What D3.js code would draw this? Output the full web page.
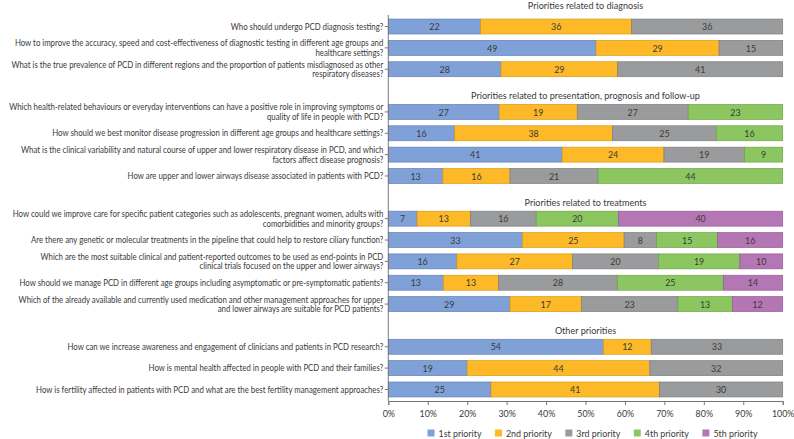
<!DOCTYPE html>
<html>
<head>
<meta charset="utf-8">
<script src="https://cdn.jsdelivr.net/npm/d3@7"></script>
<style>
  html, body { margin: 0; padding: 0; background: #fff; }
  svg { display: block; font-family: Lato, "Noto Sans", sans-serif; }
</style>
</head>
<body>
<svg id="chart" width="794" height="439"></svg>
<script>
// ---------- DATA ----------
const seriesNames = ["1st priority", "2nd priority", "3rd priority", "4th priority", "5th priority"];
const sectionTitles = [
  "Priorities related to diagnosis",
  "Priorities related to presentation, prognosis and follow-up",
  "Priorities related to treatments",
  "Other priorities"
];
// question labels (lines split with "|")
const questions = [
  "Who should undergo PCD diagnosis testing?",
  "How to improve the accuracy, speed and cost-effectiveness of diagnostic testing in different age groups and|healthcare settings?",
  "What is the true prevalence of PCD in different regions and the proportion of patients misdiagnosed as other|respiratory diseases?",
  "Which health-related behaviours or everyday interventions can have a positive role in improving symptoms or|quality of life in people with PCD?",
  "How should we best monitor disease progression in different age groups and healthcare settings?",
  "What is the clinical variability and natural course of upper and lower respiratory disease in PCD, and which|factors affect disease prognosis?",
  "How are upper and lower airways disease associated in patients with PCD?",
  "How could we improve care for specific patient categories such as adolescents, pregnant women, adults with|comorbidities and minority groups?",
  "Are there any genetic or molecular treatments in the pipeline that could help to restore ciliary function?",
  "Which are the most suitable clinical and patient-reported outcomes to be used as end-points in PCD|clinical trials focused on the upper and lower airways?",
  "How should we manage PCD in different age groups including asymptomatic or pre-symptomatic patients?",
  "Which of the already available and currently used medication and other management approaches for upper|and lower airways are suitable for PCD patients?",
  "How can we increase awareness and engagement of clinicians and patients in PCD research?",
  "How is mental health affected in people with PCD and their families?",
  "How is fertility affected in patients with PCD and what are the best fertility management approaches?"
];
const questionSection = [0,0,0, 1,1,1,1, 2,2,2,2,2, 3,3,3];
const first  = [22, 49, 28, 27, 16, 41, 13,  7, 33, 16, 13, 29, 54, 19, 25];
const second = [36, 29, 29, 19, 38, 24, 16, 13, 25, 27, 13, 17, 12, 44, 41];
const third  = [36, 15, 41, 27, 25, 19, 21, 16,  8, 20, 28, 23, 33, 32, 30];
const fourth = [ 0,  0,  0, 23, 16,  9, 44, 20, 15, 19, 25, 13,  0,  0,  0];
const fifth  = [ 0,  0,  0,  0,  0,  0,  0, 40, 16, 10, 14, 12,  0,  0,  0];
const xTicks = [0, 0.1, 0.2, 0.3, 0.4, 0.5, 0.6, 0.7, 0.8, 0.9, 1];

// ---------- STYLE ----------
const colors = ["#7fa1d7", "#fdb927", "#9a9b9d", "#8cc661", "#b577b4"];
const strokes = ["#5f7fb5", "#d89a17", "#7c7d7f", "#6ea348", "#93599a"];
const textColor = "#3a3a3a";

const svg = d3.select("#chart");
const margin = { left: 388.3, top: 15, bottom: 401 };

// build table
const table = questions.map((q, i) => ({
  key: "q" + i, label: q, section: questionSection[i],
  s0: first[i], s1: second[i], s2: third[i], s3: fourth[i], s4: fifth[i]
}));

// band slots including gap rows between sections
const slots = [];
table.forEach((d, i) => {
  if (i > 0 && d.section !== table[i - 1].section) slots.push("gap" + d.section);
  slots.push(d.key);
});

const x = d3.scaleLinear().domain([0, 1]).range([margin.left, 782.7]);
const y = d3.scaleBand().domain(slots).range([margin.top, margin.bottom])
  .paddingInner(0.3).paddingOuter(0.19);

const keys = ["s0", "s1", "s2", "s3", "s4"];
const stacked = d3.stack().keys(keys).offset(d3.stackOffsetExpand)(table);

// helper: horizontally condensed text (reference uses a narrow face)
function condensed(parent, tx, ty, size, anchor, str, k) {
  const g = parent.append("g").attr("transform", `translate(${tx},${ty}) scale(${k},1)`);
  return g.append("text").attr("x", 0).attr("y", 0).attr("dy", "0.35em")
    .attr("text-anchor", anchor).attr("font-size", size).attr("fill", textColor).text(str);
}
// measure natural width to compute condensing factors
function measure(str, size) {
  const t = svg.append("text").attr("font-size", size).text(str);
  const w = t.node().getComputedTextLength();
  t.remove();
  return w;
}
const labelK = 369 / measure(questions[1].split("|")[0], 9);
const titleK = 229 / measure(sectionTitles[1], 10.2);
const smallK = Math.min(1, 43 / measure(seriesNames[0], 10));

// bars
const g = svg.append("g");
stacked.forEach((layer, li) => {
  const lg = g.append("g");
  layer.forEach((seg, ri) => {
    const raw = table[ri][keys[li]];
    if (!raw) return;
    const d = table[ri];
    lg.append("rect")
      .attr("x", x(seg[0]))
      .attr("y", y(d.key))
      .attr("width", x(seg[1]) - x(seg[0]))
      .attr("height", y.bandwidth())
      .attr("fill", colors[li])
      .attr("stroke", strokes[li])
      .attr("stroke-width", 0.7);
    condensed(lg, (x(seg[0]) + x(seg[1])) / 2, y(d.key) + y.bandwidth() / 2 + 0.2,
      10, "middle", raw, smallK);
  });
});

// left axis
const yAxisG = svg.append("g").attr("transform", `translate(${margin.left},0)`);
yAxisG.append("line").attr("x1", 0).attr("x2", 0)
  .attr("y1", margin.top).attr("y2", margin.bottom).attr("stroke", "#777").attr("stroke-width", 1);
table.forEach(d => {
  const cy = y(d.key) + y.bandwidth() / 2;
  yAxisG.append("line").attr("x1", -3.5).attr("x2", 0).attr("y1", cy).attr("y2", cy)
    .attr("stroke", "#777");
  const lines = d.label.split("|");
  if (lines.length === 1) {
    condensed(yAxisG, -5, cy, 9, "end", lines[0], labelK);
  } else {
    condensed(yAxisG, -5, cy - 4.7, 9, "end", lines[0], labelK);
    condensed(yAxisG, -5, cy + 4.9, 9, "end", lines[1], labelK);
  }
});

// bottom axis
const xAxis = d3.axisBottom(x).tickValues(xTicks).tickFormat(d3.format(".0%")).tickSize(4);
const xg = svg.append("g").attr("transform", `translate(0,${margin.bottom})`).call(xAxis);
xg.select(".domain").attr("stroke", "#777");
xg.selectAll(".tick line").attr("stroke", "#777");
xg.selectAll(".tick text").attr("font-size", 10).attr("fill", textColor)
  .attr("font-family", "Lato, 'Noto Sans', sans-serif").attr("dy", "0.9em")
  .attr("transform", `scale(${smallK},1)`);

// section titles
const cx = (x(0) + x(1)) / 2;
sectionTitles.forEach((title, si) => {
  let mid;
  if (si === 0) mid = 5.8;
  else mid = y("gap" + si) + y.bandwidth() / 2 + 5;
  condensed(svg, cx, mid, 10.2, "middle", title, titleK);
});

// legend
const legend = svg.append("g");
let lx = 427.5;
const ly = 433;
seriesNames.forEach((name, i) => {
  legend.append("rect").attr("x", lx).attr("y", ly - 3.5).attr("width", 7).attr("height", 7)
    .attr("fill", colors[i]);
  const t = condensed(legend, lx + 11, ly, 10, "start", name, smallK);
  lx += 11 + t.node().getComputedTextLength() * smallK + 13.5;
});
</script>
</body>
</html>
